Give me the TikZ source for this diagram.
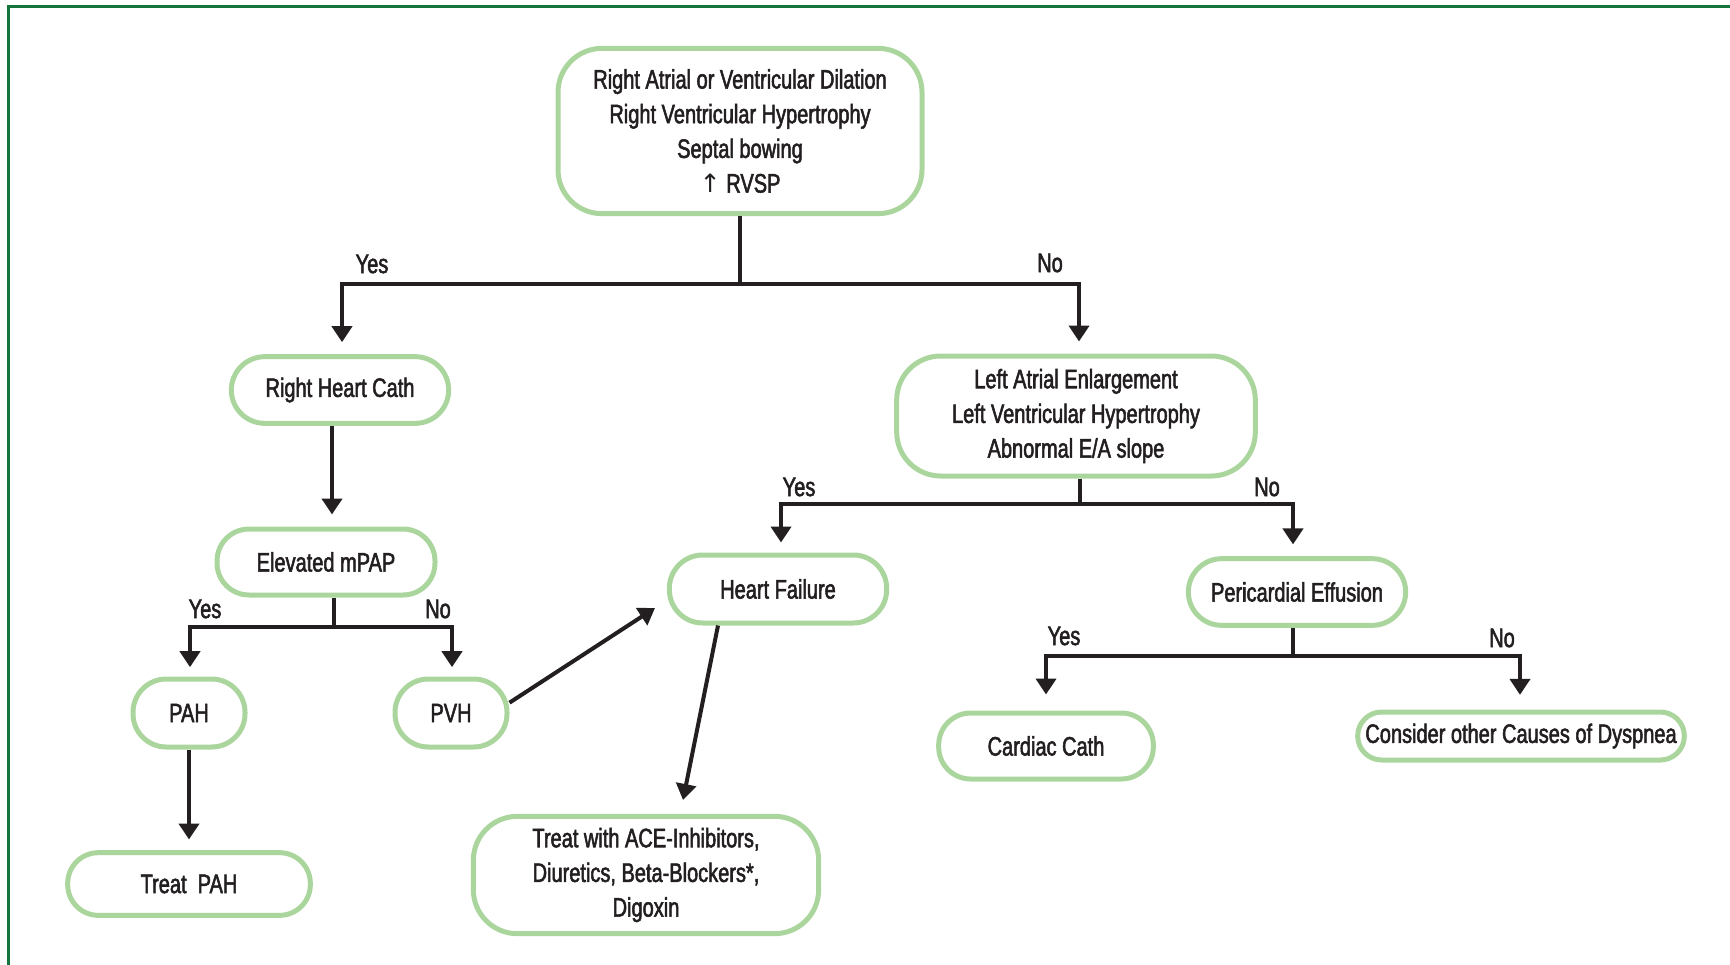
\documentclass[tikz,border=0pt]{standalone}
\usepackage{fontspec}
\setmainfont[FakeStretch=0.75,FakeBold=2]{Liberation Sans}
\newfontfamily\arrowfont{DejaVu Sans}
\usetikzlibrary{arrows.meta,calc}
\definecolor{boxgreen}{RGB}{170,214,158}
\definecolor{framegreen}{RGB}{20,117,60}
\definecolor{ink}{RGB}{35,31,32}
\tikzset{
  box/.style={draw=boxgreen, line width=3.75pt, fill=white, align=center, inner sep=0pt, text=ink},
  arr/.style={draw=ink, line width=3pt, -{Triangle[width=15pt,length=12pt]}},
  lbl/.style={text=ink, inner sep=0pt}
}
\begin{document}
\begin{tikzpicture}[x=0.75pt,y=-0.75pt,font=\fontsize{20pt}{26pt}\selectfont]
\clip (0,0) rectangle (1730,964);
\useasboundingbox (0,0) rectangle (1730,964);
\draw[framegreen, line width=2.25pt] (8,980) -- (8,6) -- (1750,6);

\node[box, minimum width=273pt, minimum height=124pt, rounded corners=33pt] (top) at (740,131)
  {Right Atrial or Ventricular Dilation\\Right Ventricular Hypertrophy\\Septal bowing\\{\arrowfont\fontsize{19pt}{26pt}\selectfont ↑} RVSP};
\node[box, minimum width=163pt, minimum height=50pt, rounded corners=25pt] (rhc) at (340,390) {Right Heart Cath};
\node[box, minimum width=163.5pt, minimum height=49.5pt, rounded corners=24pt] (mpap) at (326,562) {Elevated mPAP};
\node[box, minimum width=84pt, minimum height=51pt, rounded corners=25pt] (pah) at (189,713) {PAH};
\node[box, minimum width=84pt, minimum height=51pt, rounded corners=25pt] (pvh) at (451,713) {PVH};
\node[box, minimum width=182pt, minimum height=47pt, rounded corners=23pt] (tpah) at (189,884) {Treat\ \ PAH};
\node[box, minimum width=163pt, minimum height=51pt, rounded corners=25pt] (hf) at (778,589) {Heart Failure};
\node[box, minimum width=259pt, minimum height=88pt, rounded corners=33pt] (ace) at (646,875)
  {Treat with ACE-Inhibitors,\\Diuretics, Beta-Blockers*,\\Digoxin};
\node[box, minimum width=269pt, minimum height=90pt, rounded corners=33pt] (la) at (1076,416)
  {Left Atrial Enlargement\\Left Ventricular Hypertrophy\\Abnormal E/A slope};
\node[box, minimum width=163pt, minimum height=50pt, rounded corners=25pt] (pe) at (1297,592) {Pericardial Effusion};
\node[box, minimum width=161pt, minimum height=49.5pt, rounded corners=24pt] (cc) at (1046,746) {Cardiac Cath};
\node[box, minimum width=245pt, minimum height=36pt, rounded corners=18pt] (cod) at (1521,736) {Consider other Causes of Dyspnea};

% top split
\coordinate (j1) at (top.south |- 0,284);
\draw[arr, shorten >=9pt] (top.south) -- (j1) -| ($(rhc.north)+(2,0)$);
\draw[arr, shorten >=9pt] (j1) -| ($(la.north)+(3,0)$);
\node[lbl] (y1) at (372,264) {Yes};
\node[lbl] (n1) at (1050,263) {No};

% right heart cath -> mPAP
\draw[arr, shorten >=9pt] ($(rhc.south)+(-8,0)$) -- ($(mpap.north)+(6,0)$);

% mPAP split
\coordinate (m0) at ($(mpap.south)+(8,0)$);
\coordinate (j2) at (m0 |- 0,627);
\draw[arr, shorten >=7pt] (m0) -- (j2) -| ($(pah.north)+(1,0)$);
\draw[arr, shorten >=7pt] (j2) -| ($(pvh.north)+(1,0)$);
\node[lbl] (y2) at (205,609) {Yes};
\node[lbl] (n2) at (438,609) {No};

% PAH -> Treat PAH
\draw[arr, shorten >=8pt] (pah.south) -- (tpah.north);

% PVH -> Heart Failure
\coordinate (hfin) at (655,608);
\draw[arr] (pvh.10) -- (hfin);

% Heart Failure -> treatment
\coordinate (hfout) at ($(hf.south)+(-60,0)$);
\coordinate (acein) at (683,800);
\draw[arr] (hfout) -- (acein);

% LA split
\coordinate (l0) at ($(la.south)+(4,0)$);
\coordinate (j3) at (l0 |- 0,504);
\draw[arr, shorten >=7.5pt] (l0) -- (j3) -| ($(hf.north)+(3,0)$);
\draw[arr, shorten >=8.8pt] (j3) -| ($(pe.north)+(-4,0)$);
\node[lbl] (y3) at (799,487) {Yes};
\node[lbl] (n3) at (1267,487) {No};

% PE split
\coordinate (p0) at ($(pe.south)+(-4,0)$);
\coordinate (j4) at (p0 |- 0,656);
\draw[arr, shorten >=12pt] (p0) -- (j4) -| (cc.north);
\draw[arr, shorten >=11pt] (j4) -| ($(cod.north)+(-1,0)$);
\node[lbl] (y4) at (1064,636) {Yes};
\node[lbl] (n4) at (1502,638) {No};
\end{tikzpicture}
\end{document}
